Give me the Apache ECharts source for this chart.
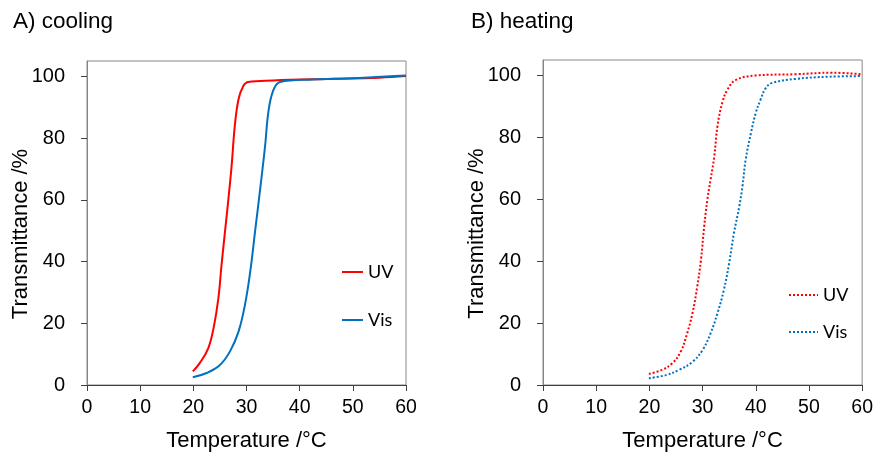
<!DOCTYPE html>
<html>
<head>
<meta charset="utf-8">
<script src="https://cdn.jsdelivr.net/npm/echarts@6/dist/echarts.min.js"></script>
<style>html,body{margin:0;padding:0;background:#fff;}#c{width:876px;height:457px;}</style>
</head>
<body>
<div id="c"></div>
<script>
// Panel titles
const panelTitles = ['A) cooling', 'B) heating'];
const xAxisName = 'Temperature /°C';
const yAxisName = 'Transmittance /%';
const yTicks = [0, 20, 40, 60, 80, 100];

// A) cooling — [temperature °C, transmittance %]
const coolUV = [[19.9,4.4],[21.2,7.1],[22.8,11.9],[23.8,18.4],[24.7,28],[25.3,38.8],[25.95,49.6],[26.6,60.3],[27.2,71],[27.8,84],[28.5,92.6],[29.4,96.9],[30.3,98.2],[35,98.7],[45,99.2],[55,99.6],[60,100.1]];
const coolVis = [[19.9,2.5],[22.5,3.9],[25,6.5],[26.9,10.9],[28.5,17.3],[29.7,25.9],[30.7,36.7],[31.6,49.6],[32.5,62.5],[33.5,77.5],[34.1,88.3],[35,95.3],[36.3,98.2],[42.6,99],[50,99.4],[60,100.3]];

// B) heating
const heatUV = [[19.9,3.6],[22.4,4.9],[24.3,7],[25.9,10.8],[27.1,16.7],[28.1,23.2],[29,31.8],[29.7,40.5],[30.3,51.2],[30.9,59.9],[31.5,66.3],[32.2,73.9],[32.8,83.6],[33.7,91.2],[34.7,95.5],[36.2,98.5],[40,100],[47.5,100.4],[54.4,100.9],[59.8,100.4]];
const heatVis = [[19.9,2.2],[23.1,3.2],[25.6,4.9],[28.1,7.5],[30,11.3],[31.5,16.7],[32.8,23.2],[34,30.7],[35,39.4],[35.9,49.1],[36.9,57.7],[37.5,64.2],[38.1,72.8],[39.1,81.5],[40,87.9],[40.9,92.2],[41.9,96],[43.1,97.6],[47.5,98.9],[53.8,99.6],[59.8,99.8]];

const RED = '#ff0000', BLUE = '#0070c0';
const font = 'Liberation Sans, Arial, sans-serif';

function xAx(gi) {
  return {
    type: 'value', gridIndex: gi, min: 0, max: 60, interval: 10,
    name: xAxisName, nameLocation: 'middle', nameGap: 45, nameMoveOverlap: false,
    nameTextStyle: { fontFamily: font, fontSize: 22, color: '#000' },
    axisLine: { show: true, onZero: false, lineStyle: { color: '#404040', width: 1 } },
    axisTick: { show: true, inside: false, length: 6, lineStyle: { color: '#404040' } },
    axisLabel: { fontFamily: font, fontSize: 19.5, color: '#000', margin: 13 },
    splitLine: { show: false }
  };
}
function yAx(gi) {
  return {
    type: 'value', gridIndex: gi, min: 0, max: 105, interval: 20,
    name: yAxisName, nameLocation: 'middle', nameGap: 55, nameMoveOverlap: false,
    nameTextStyle: { fontFamily: font, fontSize: 22, color: '#000', padding: [0, 22, 0, 0] },
    axisLine: { show: true, onZero: false, lineStyle: { color: '#868686', width: 1 } },
    axisTick: { show: true, inside: false, length: 6, customValues: yTicks, lineStyle: { color: '#404040' } },
    axisLabel: { fontFamily: font, fontSize: 20, color: '#000', margin: 22, customValues: yTicks },
    splitLine: { show: false }
  };
}
function ser(name, data, gi, color, dotted) {
  return {
    type: 'line', name: name, xAxisIndex: gi, yAxisIndex: gi, data: data,
    showSymbol: false, symbol: 'none', legendIcon: 'none', smooth: 0.4,
    lineStyle: { color: color, width: 2, type: dotted ? [2, 2] : 'solid' },
    itemStyle: { color: color },
    emphasis: { disabled: true }, animation: false
  };
}
const legendFmt = n => n.split('-')[0];
const legendText = { fontFamily: 'Lato, Open Sans, sans-serif', fontSize: 18, color: '#000' };

const chart = echarts.init(document.getElementById('c'), null, { renderer: 'canvas' });
chart.setOption({
  animation: false,
  backgroundColor: '#fff',
  title: [
    { text: panelTitles[0], left: 8, top: 5, textStyle: { fontFamily: font, fontSize: 22.5, fontWeight: 'normal', color: '#000' } },
    { text: panelTitles[1], left: 466, top: 5, textStyle: { fontFamily: font, fontSize: 22.5, fontWeight: 'normal', color: '#000' } }
  ],
  grid: [
    { left: 87, right: 470, top: 61, bottom: 70, show: true, borderColor: '#888', borderWidth: 1, backgroundColor: 'transparent' },
    { left: 543, right: 13, top: 60, bottom: 72, show: true, borderColor: '#888', borderWidth: 1, backgroundColor: 'transparent' }
  ],
  legend: [
    { data: ['UV-c', 'Vis-c'], orient: 'vertical', left: 336, top: 258, itemWidth: 21, itemHeight: 14, itemGap: 30, formatter: legendFmt, textStyle: legendText, selectedMode: false, itemStyle: { opacity: 0 } },
    { data: ['UV-h', 'Vis-h'], orient: 'vertical', left: 783, top: 281, itemWidth: 29, itemHeight: 14, itemGap: 19, formatter: legendFmt, textStyle: legendText, selectedMode: false, itemStyle: { opacity: 0 } }
  ],
  xAxis: [xAx(0), xAx(1)],
  yAxis: [yAx(0), yAx(1)],
  series: [
    ser('UV-c', coolUV, 0, RED, false),
    ser('Vis-c', coolVis, 0, BLUE, false),
    ser('UV-h', heatUV, 1, RED, true),
    ser('Vis-h', heatVis, 1, BLUE, true)
  ]
});
</script>
</body>
</html>
